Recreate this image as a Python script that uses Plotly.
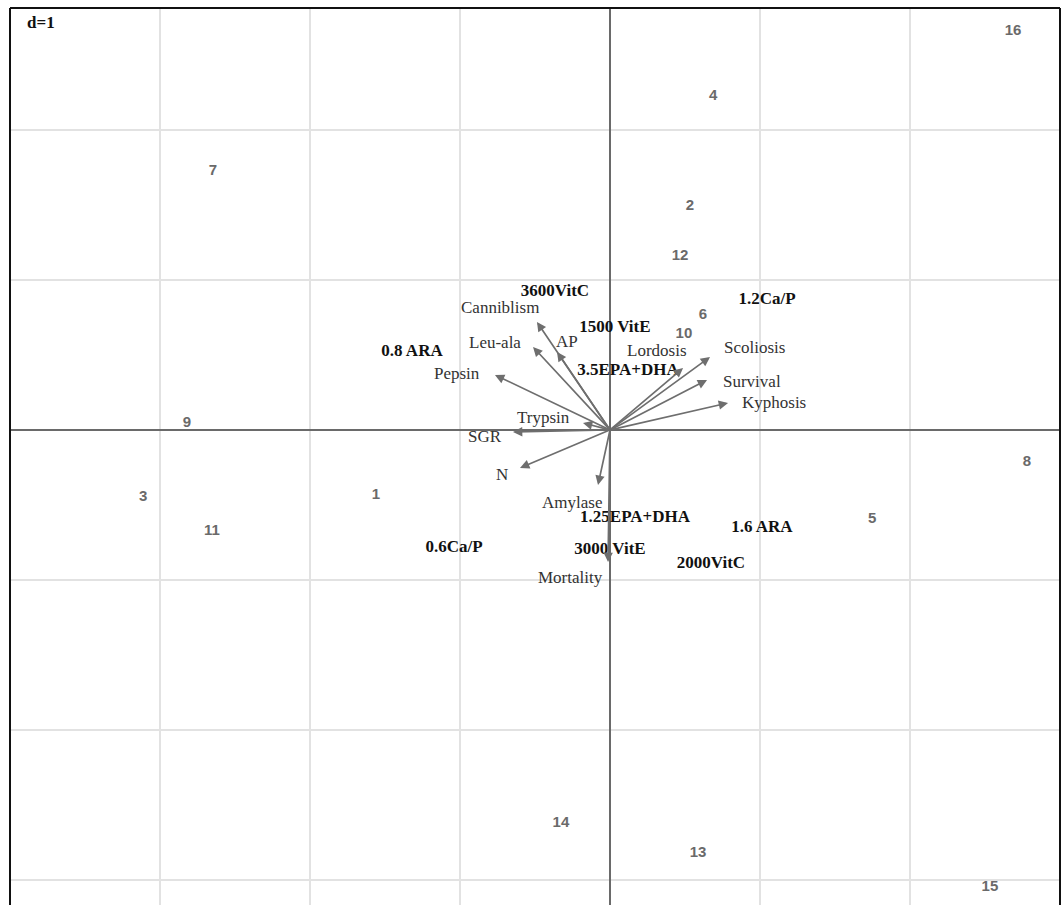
import plotly.graph_objects as go

# Sample scores (row labels)
site_labels = ["1", "2", "3", "4", "5", "6", "7", "8", "9", "10", "11", "12", "13", "14", "15", "16"]
site_x = [-1.56, 0.533, -3.113, 0.687, 1.747, 0.62, -2.647, 2.78, -2.82, 0.493, -2.653, 0.467, 0.587, -0.327, 2.533, 2.687]
site_y = [-0.433, 1.493, -0.447, 2.227, -0.593, 0.767, 1.727, -0.213, 0.047, 0.64, -0.673, 1.16, -2.82, -2.62, -3.047, 2.66]

# Treatment labels
treat_labels = ["3600VitC", "1.2Ca/P", "1500 VitE", "0.8 ARA", "3.5EPA+DHA",
                "1.25EPA+DHA", "1.6 ARA", "0.6Ca/P", "3000 VitE", "2000VitC"]
treat_x = [-0.367, 1.047, 0.033, -1.32, 0.12, 0.167, 1.013, -1.04, 0.0, 0.673]
treat_y = [0.92, 0.867, 0.68, 0.52, 0.393, -0.587, -0.653, -0.787, -0.8, -0.893]

# Variable loadings (arrows)
var_labels = ["Canniblism", "Leu-ala", "AP", "Pepsin", "Trypsin", "SGR", "N",
              "Amylase", "Mortality", "Lordosis", "Scoliosis", "Survival", "Kyphosis"]
var_x = [-0.487, -0.513, -0.353, -0.767, -0.18, -0.647, -0.6, -0.08, -0.013, 0.487, 0.667, 0.647, 0.787]
var_y = [0.72, 0.553, 0.52, 0.367, 0.047, -0.013, -0.253, -0.367, -0.88, 0.413, 0.487, 0.333, 0.18]

# label offsets in pixels (dx right, dy down) from arrow tip
label_dx = [-37, -38, 10, -38, -40, -28, -18, -26, -38, -26, 44, 45, 46]
label_dy = [-14, -5, -10, -1, -5, 5, 7, 17, 16, -18, -9, 1, 0]

fig = go.Figure()

fig.add_trace(go.Scatter(
    x=site_x, y=site_y, mode="text", text=["<b>%s</b>" % s for s in site_labels],
    textfont=dict(family="Liberation Sans Narrow, Liberation Sans, sans-serif", size=15, color="#6a6a6a"),
    textposition="middle center", hoverinfo="skip", showlegend=False))

fig.add_trace(go.Scatter(
    x=treat_x, y=treat_y, mode="text", text=["<b>%s</b>" % t for t in treat_labels],
    textfont=dict(family="Liberation Serif, Times New Roman, serif", size=17, color="#111"),
    textposition="middle center", hoverinfo="skip", showlegend=False))

annotations = []
for lab, vx, vy, dx, dy in zip(var_labels, var_x, var_y, label_dx, label_dy):
    annotations.append(dict(
        x=vx, y=vy, ax=0, ay=0, xref="x", yref="y", axref="x", ayref="y",
        showarrow=True, arrowhead=2, arrowsize=1.1, arrowwidth=1.7,
        arrowcolor="#6e6e6e", text=""))
    annotations.append(dict(
        x=vx, y=vy, xref="x", yref="y", showarrow=False, text=lab,
        xshift=dx, yshift=-dy, xanchor="center", yanchor="middle",
        font=dict(family="Liberation Serif, Times New Roman, serif", size=17, color="#333")))

annotations.append(dict(
    x=0, y=1, xref="paper", yref="paper", xanchor="left", yanchor="top",
    xshift=15, yshift=-3, showarrow=False, text="<b>d=1</b>",
    font=dict(family="Liberation Serif, Times New Roman, serif", size=17, color="#111")))

shapes = [
    dict(type="line", xref="paper", yref="paper", x0=0, x1=0, y0=0, y1=1, line=dict(color="#111", width=2)),
    dict(type="line", xref="paper", yref="paper", x0=0, x1=1, y0=1, y1=1, line=dict(color="#111", width=2)),
    dict(type="line", xref="paper", yref="paper", x0=1, x1=1, y0=0, y1=1, line=dict(color="#111", width=2)),
]

fig.update_layout(
    width=1063, height=905,
    margin=dict(l=10, r=3, t=8, b=0),
    paper_bgcolor="white", plot_bgcolor="white",
    annotations=annotations, shapes=shapes,
    xaxis=dict(range=[-4.0, 3.0], dtick=1, tick0=0, showgrid=True, gridcolor="#e2e2e2", gridwidth=1.5,
               zeroline=True, zerolinecolor="#6a6a6a", zerolinewidth=2,
               showticklabels=False, ticks="", showline=False, fixedrange=True),
    yaxis=dict(range=[-3.167, 2.813], dtick=1, tick0=0, showgrid=True, gridcolor="#e2e2e2", gridwidth=1.5,
               zeroline=True, zerolinecolor="#6a6a6a", zerolinewidth=2,
               showticklabels=False, ticks="", showline=False, fixedrange=True),
)

fig.write_html("out.html", config={"displayModeBar": False},
               post_script="document.body.style.margin='0';document.body.style.overflow='hidden';")
